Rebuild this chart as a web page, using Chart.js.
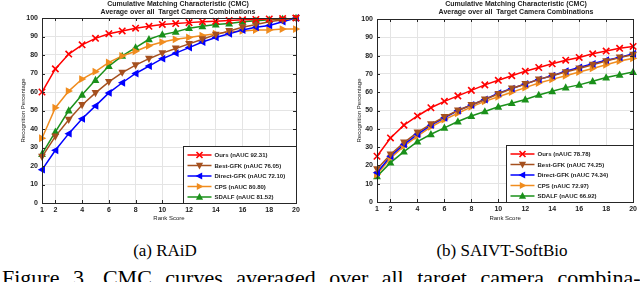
<!DOCTYPE html>
<html>
<head>
<meta charset="utf-8">
<script src="https://cdn.jsdelivr.net/npm/chart.js"></script>
<style>
  body { margin: 0; width: 640px; height: 282px; overflow: hidden; background: #fff; position: relative; font-family: 'Liberation Serif', 'Times New Roman', serif; }
  .wrap { position: absolute; top: 0; width: 320px; height: 235px; }
  #w1 { left: 0; }
  #w2 { left: 320px; }
  .cap { position: absolute; top: 241px; font-size: 17px; white-space: nowrap; transform: translateX(-50%); }
  .fig { position: absolute; left: 2px; top: 265px; font-size: 22px; word-spacing: 8px; white-space: nowrap; }
</style>
</head>
<body>
<div class="wrap" id="w1"><canvas id="raid"></canvas></div>
<div class="wrap" id="w2"><canvas id="saivt"></canvas></div>
<div class="cap" style="left:165px">(a) RAiD</div>
<div class="cap" style="left:502px">(b) SAIVT-SoftBio</div>
<div class="fig">Figure 3. CMC curves averaged over all target camera combina-</div>

<script>
// rank axis
const ranks = [1, 2, 3, 4, 5, 6, 7, 8, 9, 10, 11, 12, 13, 14, 15, 16, 17, 18, 19, 20];
const xTicks = [1, 2, 4, 6, 8, 10, 12, 14, 16, 18, 20];

const titleLines = ['Cumulative Matching Characteristic (CMC)', 'Average over all  Target Camera Combinations'];
const xTitle = 'Rank Score';
const yTitle = 'Recognition Percentage';

// (a) RAiD
const raidLabels = ['Ours (nAUC 92.31)', 'Best-GFK (nAUC 76.05)', 'Direct-GFK (nAUC 72.10)', 'CPS (nAUC 80.80)', 'SDALF (nAUC 81.52)'];
const raidOurs   = [60, 72.5, 80.5, 85.5, 89, 91.5, 93, 94.5, 95.5, 96.5, 97, 97.5, 98, 98.3, 98.6, 99, 99.2, 99.5, 99.7, 100];
const raidBest   = [25, 36, 45, 53, 59.5, 65.5, 70.5, 74.5, 78, 81, 83.5, 86, 88.5, 91, 93, 95, 96.5, 98, 99, 100];
const raidDirect = [18, 28.5, 37.5, 45.5, 52.5, 59.5, 65, 70, 74, 78, 81, 84, 87, 89.5, 91.5, 93.5, 95, 96, 98, 100];
const raidCps    = [35, 51.5, 60.5, 67, 71, 76, 79.5, 82, 85, 87, 88.5, 89.5, 90.5, 91.5, 92.5, 93, 93.5, 93.5, 94, 94];
const raidSdalf  = [26.5, 38.5, 50, 58.5, 66.5, 74, 79.5, 84, 88.5, 91, 92.5, 94.5, 95.5, 96.5, 97, 98, 98.5, 99, 99.5, 100];

// (b) SAIVT-SoftBio
const saivtLabels = ['Ours (nAUC 78.78)', 'Best-GFK (nAUC 74.25)', 'Direct-GFK (nAUC 74.34)', 'CPS (nAUC 72.97)', 'SDALF (nAUC 66.92)'];
const saivtOurs   = [25, 35, 42, 47, 51.5, 55, 58, 61, 64, 66.5, 69, 71.5, 73.5, 75.5, 77.5, 79, 81, 82.5, 84, 85];
const saivtBest   = [18, 26, 32.5, 38, 42.5, 46.5, 50, 53, 56, 59, 62, 64.5, 67, 69, 71, 73, 75, 77, 79, 80.5];
const saivtDirect = [16, 25, 31.5, 37, 42, 46, 50, 53, 56, 59.5, 62, 64.5, 67, 69, 71.5, 73.5, 75.5, 77.5, 79, 81];
const saivtCps    = [15, 24, 30.5, 36, 41, 45, 48.5, 52, 55, 57.5, 60, 62.5, 65, 67, 69, 71, 73, 75, 77, 78.5];
const saivtSdalf  = [14, 21.5, 27.5, 33, 37, 40.5, 44, 47, 49.5, 52, 54, 56, 58.5, 60.5, 62.5, 64, 66, 68, 69.5, 71];

const styles = [
  { color: '#ff0000', marker: 'cross' },
  { color: '#a5501e', marker: 'down' },
  { color: '#0000ff', marker: 'left' },
  { color: '#f08c1e', marker: 'right' },
  { color: '#1a901a', marker: 'up' }
];

const uiFont = "'Liberation Sans', Arial, sans-serif";

function drawMarker(ctx, type, x, y, r, color) {
  ctx.save();
  ctx.translate(x, y);
  ctx.strokeStyle = color;
  ctx.fillStyle = color;
  if (type === 'cross') {
    ctx.lineWidth = 1.6;
    ctx.beginPath();
    ctx.moveTo(-r, -r); ctx.lineTo(r, r);
    ctx.moveTo(-r, r); ctx.lineTo(r, -r);
    ctx.stroke();
  } else {
    const rot = { up: 0, right: Math.PI / 2, down: Math.PI, left: -Math.PI / 2 }[type];
    ctx.rotate(rot);
    ctx.beginPath();
    ctx.moveTo(0, -r * 1.1);
    ctx.lineTo(r, r * 0.75);
    ctx.lineTo(-r, r * 0.75);
    ctx.closePath();
    ctx.fill();
  }
  ctx.restore();
}

// markers drawn by hand so they match the matlab look
const markerPlugin = {
  id: 'markers',
  afterDatasetsDraw(chart) {
    const ctx = chart.ctx;
    for (let i = chart.data.datasets.length - 1; i >= 0; i--) {
      const meta = chart.getDatasetMeta(i);
      const st = styles[i];
      meta.data.forEach(p => drawMarker(ctx, st.marker, p.x, p.y, st.marker === 'cross' ? 3.2 : 3.9, st.color));
    }
  }
};

const framePlugin = {
  id: 'frame',
  afterDraw(chart, args, opts) {
    const { ctx, chartArea: a } = chart;
    const xs = chart.scales.x, ys = chart.scales.y;
    ctx.save();
    ctx.strokeStyle = '#262626';
    ctx.lineWidth = 1;
    ctx.strokeRect(Math.round(a.left) + 0.5, Math.round(a.top) + 0.5, Math.round(a.right - a.left), Math.round(a.bottom - a.top));
    // inward tick marks on all four sides
    ctx.beginPath();
    xTicks.forEach(v => {
      const px = Math.round(xs.getPixelForValue(v)) + 0.5;
      ctx.moveTo(px, a.bottom); ctx.lineTo(px, a.bottom - 3);
      ctx.moveTo(px, a.top); ctx.lineTo(px, a.top + 3);
    });
    for (let v = 0; v <= 100; v += 10) {
      const py = Math.round(ys.getPixelForValue(v)) + 0.5;
      ctx.moveTo(a.left, py); ctx.lineTo(a.left + 3, py);
      ctx.moveTo(a.right, py); ctx.lineTo(a.right - 3, py);
    }
    ctx.stroke();

    // titles
    ctx.fillStyle = '#222';
    ctx.textAlign = 'center';
    ctx.textBaseline = 'middle';
    ctx.font = 'bold 7px ' + uiFont;
    ctx.fillText(titleLines[0], opts.titleX, 4.5);
    ctx.fillText(titleLines[1], opts.titleX, 12);
    ctx.font = '6px ' + uiFont;
    ctx.fillText(xTitle, (a.left + a.right) / 2, 218);
    ctx.save();
    ctx.translate(opts.yTitleX, (a.top + a.bottom) / 2);
    ctx.rotate(-Math.PI / 2);
    ctx.fillText(yTitle, 0, 0);
    ctx.restore();

    // legend in the lower right corner
    const bw = opts.legendW, bh = 57;
    const bx = Math.round(a.right - bw) + 0.5, by = Math.round(a.bottom - bh) + 0.5;
    ctx.fillStyle = '#fff';
    ctx.fillRect(bx, by, bw, bh);
    ctx.strokeStyle = '#262626';
    ctx.strokeRect(bx, by, bw, bh);
    ctx.font = 'bold 6px ' + uiFont;
    ctx.textAlign = 'left';
    chart.data.datasets.forEach((ds, i) => {
      const y = by + 8.5 + i * 10.5;
      const st = styles[i];
      ctx.strokeStyle = st.color;
      ctx.lineWidth = 1.5;
      ctx.beginPath();
      ctx.moveTo(bx + 4, y); ctx.lineTo(bx + 28, y);
      ctx.stroke();
      drawMarker(ctx, st.marker, bx + 16, y, st.marker === 'cross' ? 3 : 3.6, st.color);
      ctx.fillStyle = '#222';
      ctx.fillText(ds.label, bx + 31, y + 0.5);
    });
    ctx.restore();
  }
};

function makeChart(id, labels, series, geo) {
  const datasets = series.map((vals, i) => ({
    label: labels[i],
    data: ranks.map((r, k) => ({ x: r, y: vals[k] })),
    borderColor: styles[i].color,
    backgroundColor: styles[i].color,
    borderWidth: 1.5,
    pointRadius: 0,
    tension: 0
  }));
  return new Chart(document.getElementById(id), {
    type: 'line',
    data: { datasets },
    plugins: [markerPlugin, framePlugin],
    options: {
      responsive: true,
      maintainAspectRatio: false,
      animation: false,
      layout: { padding: { top: geo.top, right: geo.right, left: 0, bottom: 0 } },
      plugins: {
        legend: { display: false },
        tooltip: { enabled: false },
        frame: { titleX: geo.titleX, yTitleX: geo.yTitleX, legendW: geo.legendW }
      },
      scales: {
        x: {
          type: 'linear',
          min: 1,
          max: 20,
          afterBuildTicks: s => { s.ticks = xTicks.map(v => ({ value: v })); },
          afterFit: s => { s.height = geo.xHeight; },
          grid: { color: '#e4e4e4', drawTicks: false },
          border: { display: false },
          ticks: { padding: 3, color: '#222', font: { family: uiFont, size: 7, weight: 'bold' }, maxRotation: 0, autoSkip: false }
        },
        y: {
          min: 0,
          max: 100,
          afterFit: s => { s.width = geo.yWidth; },
          grid: { color: '#e4e4e4', drawTicks: false },
          border: { display: false },
          ticks: { stepSize: 10, padding: 4, color: '#222', font: { family: uiFont, size: 7, weight: 'bold' } }
        }
      }
    }
  });
}

makeChart('raid', raidLabels, [raidOurs, raidBest, raidDirect, raidCps, raidSdalf],
  { top: 18, right: 24, xHeight: 32, yWidth: 42, titleX: 178, yTitleX: 23, legendW: 113 });
makeChart('saivt', saivtLabels, [saivtOurs, saivtBest, saivtDirect, saivtCps, saivtSdalf],
  { top: 19, right: 6, xHeight: 33, yWidth: 57, titleX: 196, yTitleX: 39.5, legendW: 127 });
</script>
</body>
</html>
